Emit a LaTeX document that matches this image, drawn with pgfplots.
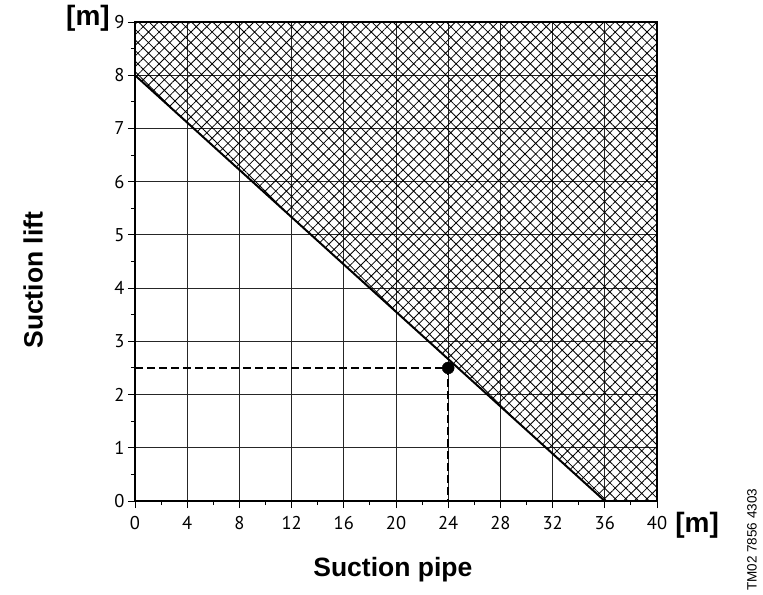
\documentclass[border=0pt]{standalone}
\usepackage{fontspec}
\setmainfont{Liberation Sans}
\newfontfamily\tickfont{PT Sans}
\usepackage{pgfplots}
\pgfplotsset{compat=1.18}
\usetikzlibrary{patterns.meta}
\begin{document}
\begin{tikzpicture}[x=1pt,y=1pt]
\path (0,0) rectangle (763,593);
\begin{axis}[
  at={(135pt,92pt)}, anchor=south west,
  scale only axis, width=522pt, height=479pt,
  xmin=0, xmax=40, ymin=0, ymax=9,
  xtick={0,4,...,40}, ytick={0,1,...,9},
  minor x tick num=1, minor y tick num=1,
  xtick pos=bottom, ytick pos=left,
  tick align=outside,
  major tick length=7pt, minor tick length=4pt,
  every tick/.style={black, line width=1pt},
  grid=major,
  major grid style={black!85, line width=0.8pt},
  axis line style={line width=1.3pt},
  ticklabel style={font=\tickfont\fontsize{18.5}{20}\selectfont},
  xticklabel style={yshift=-5pt},
  /pgf/number format/assume math mode=true,
  xlabel={\bfseries Suction pipe},
  ylabel={\bfseries Suction lift},
  label style={font=\fontsize{26.5}{30}\selectfont},
  xlabel style={at={(axis description cs:0.494,-0.144)}, anchor=center},
  ylabel style={at={(axis description cs:-0.195,0.461)}, anchor=center, rotate=0},
  clip=false,
]
\addplot [draw=none, pattern={Hatch[angle=45, distance=7.5pt, line width=0.8pt]}]
  coordinates {(0,8) (36,0) (40,0) (40,9) (0,9)} -- cycle;
\addplot [black, line width=2pt] coordinates {(0,8) (36,0)};
\addplot [black, line width=1.7pt, dash pattern=on 8pt off 4pt] coordinates {(0,2.5) (24,2.5) (24,0)};
\addplot [only marks, mark=*, mark size=6pt, black] coordinates {(24,2.5)};
\node[font=\bfseries\fontsize{28}{30}\selectfont] at (axis description cs:-0.09,1.008) {[m]};
\node[font=\bfseries\fontsize{28}{30}\selectfont] at (axis description cs:1.077,-0.05) {[m]};
\node[font=\fontsize{13.5}{15}\selectfont, rotate=90] at (axis description cs:1.182,-0.081) {TM02 7856 4303};
\end{axis}
\end{tikzpicture}
\end{document}
